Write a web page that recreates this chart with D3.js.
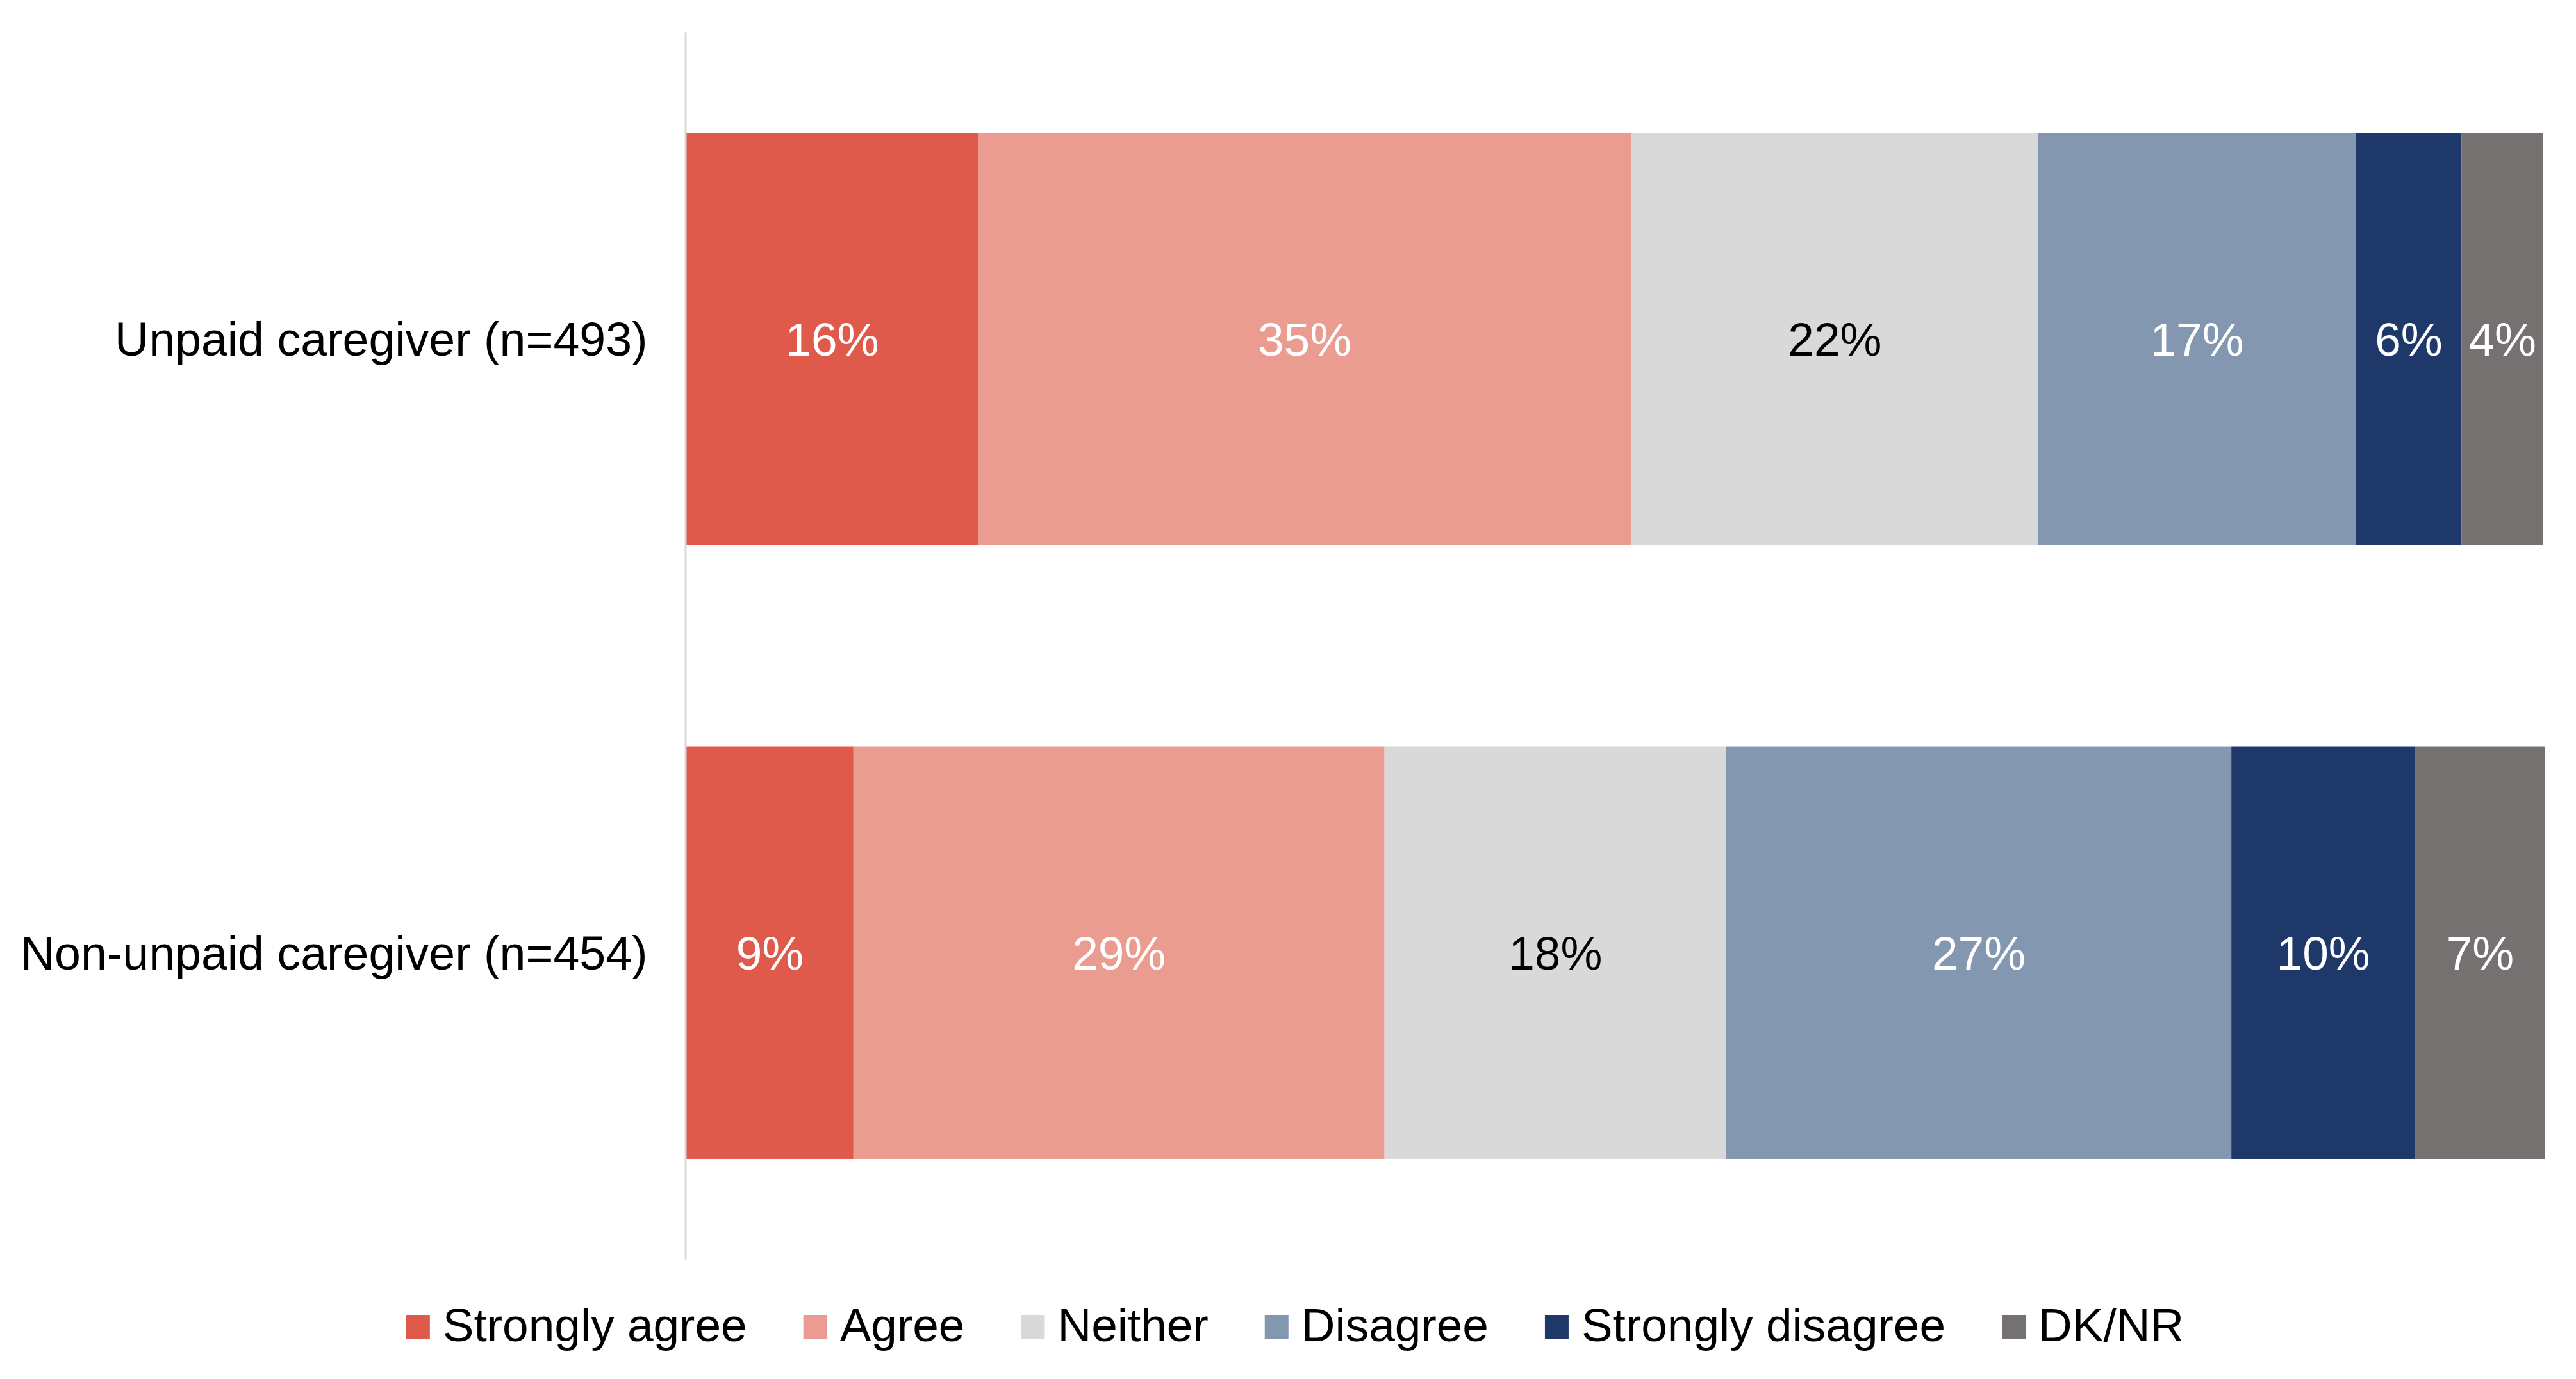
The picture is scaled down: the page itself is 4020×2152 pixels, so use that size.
<!DOCTYPE html>
<html>
<head>
<meta charset="utf-8">
<script src="https://cdn.jsdelivr.net/npm/d3@7"></script>
<style>
  html, body { margin: 0; padding: 0; background: #ffffff; }
  svg { display: block; }
  text { font-family: "Liberation Sans", Arial, sans-serif; }
</style>
</head>
<body>
<svg id="chart" width="4020" height="2152"></svg>
<script>
// ---- Data ----
const categories = ["Unpaid caregiver (n=493)", "Non-unpaid caregiver (n=454)"];
const seriesNames = ["Strongly agree", "Agree", "Neither", "Disagree", "Strongly disagree", "DK/NR"];
const unpaidValues = [15.7, 35.2, 21.9, 17.1, 5.7, 4.4];
const nonUnpaidValues = [9.0, 28.6, 18.4, 27.2, 9.9, 7.0];
const seriesColors = ["#E05A4B", "#EA9C91", "#D9D9D9", "#8497B0", "#1D3869", "#767171"];
const labelColors = ["#FFFFFF", "#FFFFFF", "#000000", "#FFFFFF", "#FFFFFF", "#FFFFFF"];

// ---- Build table ----
const valuesByCategory = [unpaidValues, nonUnpaidValues];
const table = categories.map((c, i) => {
  const row = { category: c };
  seriesNames.forEach((s, j) => { row[s] = valuesByCategory[i][j]; });
  return row;
});
const stacked = d3.stack().keys(seriesNames)(table);

// ---- Layout ----
const svg = d3.select("#chart");
const FONT = 73;
const plotLeft = 1071, plotRight = 3969, plotTop = 50, plotBottom = 1965;

const x = d3.scaleLinear().domain([0, 100]).range([plotLeft, plotRight]);
const y = d3.scaleBand().domain(categories).range([plotTop, plotBottom])
  .paddingInner(0.328).paddingOuter(0.164);
const color = d3.scaleOrdinal().domain(seriesNames).range(seriesColors);
const textColor = d3.scaleOrdinal().domain(seriesNames).range(labelColors);

// ---- Bars ----
const layers = svg.append("g").selectAll("g")
  .data(stacked).join("g")
  .attr("fill", d => color(d.key));

layers.selectAll("rect")
  .data(d => d.map(p => ({ key: d.key, p })))
  .join("rect")
  .attr("x", d => x(d.p[0]))
  .attr("y", d => y(d.p.data.category))
  .attr("width", d => x(d.p[1]) - x(d.p[0]))
  .attr("height", y.bandwidth());

// ---- Value labels ----
layers.selectAll("text")
  .data(d => d.map(p => ({ key: d.key, p })))
  .join("text")
  .attr("x", d => (x(d.p[0]) + x(d.p[1])) / 2)
  .attr("y", d => y(d.p.data.category) + y.bandwidth() / 2)
  .attr("dy", "0.36em")
  .attr("text-anchor", "middle")
  .attr("font-size", FONT)
  .attr("fill", d => textColor(d.key))
  .text(d => Math.round(d.p[1] - d.p[0]) + "%");

// ---- Category axis ----
const axis = svg.append("g")
  .attr("transform", `translate(${plotLeft - 1.5},0)`)
  .call(d3.axisLeft(y).tickSize(0).tickSizeOuter(0).tickPadding(59));
axis.select(".domain").attr("stroke", "#D9D9D9").attr("stroke-width", 3);
axis.selectAll(".tick text")
  .attr("font-size", FONT + 0.5)
  .attr("font-family", "Liberation Sans, Arial, sans-serif")
  .attr("fill", "#000000")
  .attr("dy", "0.36em");

// ---- Legend ----
const legend = svg.append("g");
const sq = 37, gapText = 20, gapItem = 88, legendBaseline = 2093;
const items = legend.selectAll("g").data(seriesNames).join("g");
items.append("rect")
  .attr("width", sq).attr("height", sq)
  .attr("y", 2052)
  .attr("fill", d => color(d));
items.append("text")
  .attr("x", sq + gapText)
  .attr("y", legendBaseline)
  .attr("font-size", FONT)
  .attr("fill", "#000000")
  .text(d => d);

let cursor = 0;
const offsets = [];
items.each(function () {
  const w = d3.select(this).select("text").node().getComputedTextLength();
  offsets.push(cursor);
  cursor += sq + gapText + w + gapItem;
});
const totalW = cursor - gapItem;
const legendCenter = 2021;
const startX = legendCenter - totalW / 2;
items.attr("transform", (d, i) => `translate(${startX + offsets[i]},0)`);
</script>
</body>
</html>
